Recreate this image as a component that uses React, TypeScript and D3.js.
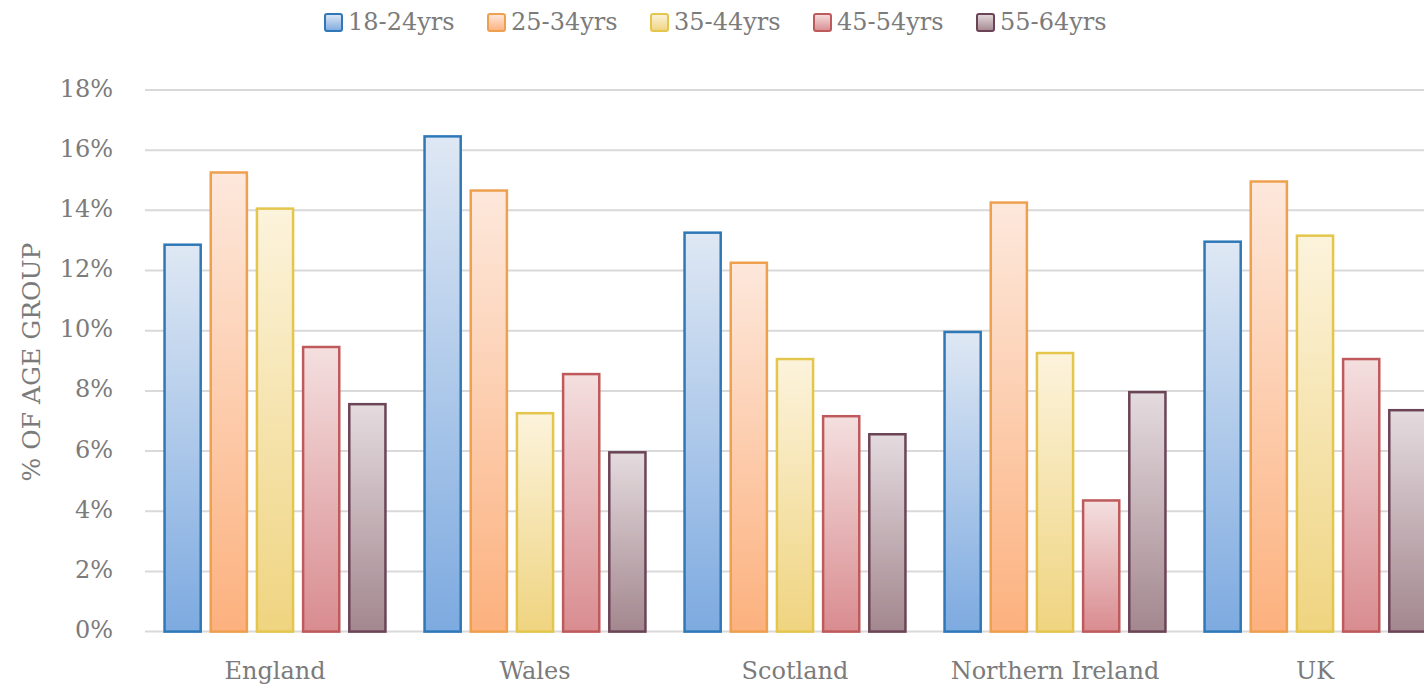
import React, { useEffect } from "react";
import * as d3 from "d3";

const categories = ["England", "Wales", "Scotland", "Northern Ireland", "UK"];
const seriesNames = ["18-24yrs", "25-34yrs", "35-44yrs", "45-54yrs", "55-64yrs"];
const s18_24 = [12.9, 16.5, 13.3, 10.0, 13.0];
const s25_34 = [15.3, 14.7, 12.3, 14.3, 15.0];
const s35_44 = [14.1, 7.3, 9.1, 9.3, 13.2];
const s45_54 = [9.5, 8.6, 7.2, 4.4, 9.1];
const s55_64 = [7.6, 6.0, 6.6, 8.0, 7.4];
const seriesValues = [s18_24, s25_34, s35_44, s45_54, s55_64];
const yTicks = [0, 2, 4, 6, 8, 10, 12, 14, 16, 18];

const strokes = ["#2e78b8", "#eea04e", "#e4c64c", "#bf5a5c", "#6b4456"];
const topFill = ["#dfe8f4", "#fde8dc", "#fcf3dc", "#f4dfdf", "#e4dbde"];
const bottomFill = ["#7daae0", "#fcb17e", "#efd480", "#d98c90", "#a3878f"];

const W = 1424;
const H = 691;
const FONT = "'DejaVu Serif', 'Liberation Serif', serif";
const TEXT = "#7b7b7b";

export default function App() {
  useEffect(() => {
    document.body.style.margin = "0";
  }, []);

  const x0 = d3.scaleBand<string>().domain(categories).range([145, 1445]).padding(0);
  const x1 = d3
    .scaleBand<string>()
    .domain(seriesNames)
    .range([18.3, x0.bandwidth() - 18.3])
    .paddingInner(0.163)
    .paddingOuter(0);
  const y = d3.scaleLinear().domain([0, 18]).range([631.6, 90]);
  const bw = x1.bandwidth();
  const sw = 2.5;

  return (
    <svg width={W} height={H} style={{ display: "block", background: "#fff" }}>
      <defs>
        {seriesNames.map((s, i) => (
          <linearGradient key={s} id={`g${i}`} x1="0" y1="0" x2="0" y2="1">
            <stop offset="0" stopColor={topFill[i]} />
            <stop offset="1" stopColor={bottomFill[i]} />
          </linearGradient>
        ))}
      </defs>

      {/* gridlines */}
      {yTicks.map((t) => (
        <line
          key={t}
          x1={145}
          x2={W}
          y1={y(t)}
          y2={y(t)}
          stroke="#d9d9d9"
          strokeWidth={2}
        />
      ))}

      {/* y tick labels */}
      {yTicks.map((t) => (
        <text
          key={t}
          x={113}
          y={y(t)}
          textAnchor="end"
          dominantBaseline="middle"
          fontFamily={FONT}
          fontSize={24}
          fill={TEXT}
        >
          {`${t}%`}
        </text>
      ))}

      {/* y title */}
      <text
        transform={`translate(40,362) rotate(-90)`}
        textAnchor="middle"
        fontFamily={FONT}
        fontSize={25}
        fill={TEXT}
      >
        % OF AGE GROUP
      </text>

      {/* bars */}
      {categories.map((c, ci) => (
        <g key={c} transform={`translate(${x0(c)},0)`}>
          {seriesNames.map((s, si) => {
            const v = seriesValues[si][ci];
            const bx = (x1(s) as number) + sw / 2;
            const top = y(v) + sw / 2;
            return (
              <rect
                key={s}
                x={bx}
                y={top}
                width={bw - sw}
                height={y(0) - top}
                fill={`url(#g${si})`}
                stroke={strokes[si]}
                strokeWidth={sw}
              />
            );
          })}
        </g>
      ))}

      {/* x labels */}
      {categories.map((c) => (
        <text
          key={c}
          x={(x0(c) as number) + x0.bandwidth() / 2}
          y={679}
          textAnchor="middle"
          fontFamily={FONT}
          fontSize={24}
          fill={TEXT}
        >
          {c}
        </text>
      ))}

      {/* legend */}
      {seriesNames.map((s, i) => {
        const lx = 325 + i * 163;
        return (
          <g key={s} transform={`translate(${lx},14)`}>
            <rect
              x={0}
              y={0}
              width={17}
              height={17}
              rx={2}
              fill={`url(#g${i})`}
              stroke={strokes[i]}
              strokeWidth={2}
            />
            <text
              x={23}
              y={9}
              dominantBaseline="middle"
              fontFamily={FONT}
              fontSize={24}
              fill={TEXT}
            >
              {s}
            </text>
          </g>
        );
      })}
    </svg>
  );
}
